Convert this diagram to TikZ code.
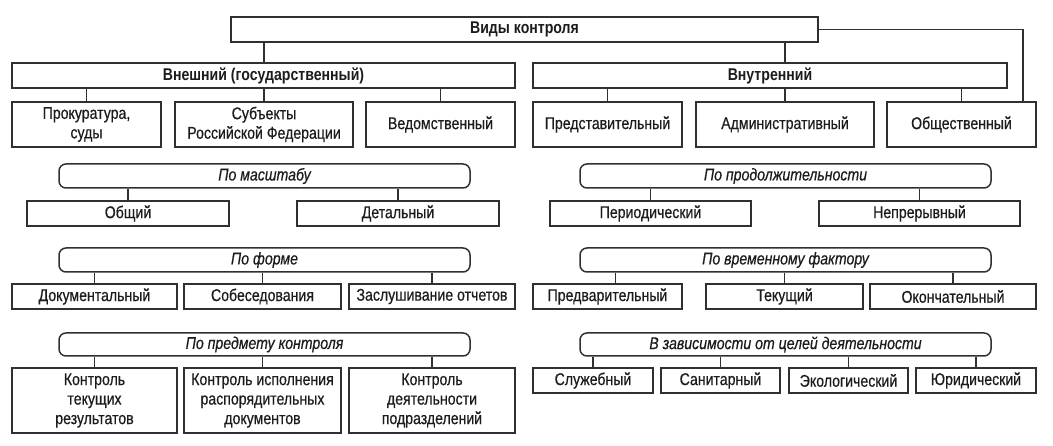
\documentclass[tikz,border=0pt]{standalone}
\usepackage{fontspec}
\setmainfont{Liberation Sans}[FakeStretch=0.83,
  UprightFeatures={FakeBold=0.5}, ItalicFeatures={FakeBold=0.5}]
\definecolor{linec}{HTML}{303030}
\definecolor{textc}{HTML}{1c1c1c}
\newcommand\fsz{\fontsize{17}{19.5}\selectfont}
\begin{document}
\begin{tikzpicture}[x=1pt,y=-1pt,
  box/.style={draw=linec, line width=1.5pt, inner sep=0pt, align=center, font=\fsz, text=textc},
  hbox/.style={box, font=\fsz\bfseries},
  rbox/.style={box, rounded corners=7pt, font=\fsz\itshape},
  conn/.style={draw=linec, line width=1.5pt}]
\fill[white] (0,0) rectangle (1053,446);
\useasboundingbox (0,0) rectangle (1053,446);

% top levels
\node[hbox, minimum width=587pt, minimum height=25pt] (top) at (524.5,29.5) {Виды контроля};
\node[hbox, minimum width=503pt, minimum height=25pt] (ext) at (263.5,75.5) {Внешний (государственный)};
\node[hbox, minimum width=474pt, minimum height=25pt] (int) at (770,75.5) {Внутренний};

\node[box, minimum width=149pt, minimum height=45pt] (p1) at (86.5,124.5) {Прокуратура,\\суды};
\node[box, minimum width=178pt, minimum height=45pt] (p2) at (264,124.5) {Субъекты\\Российской Федерации};
\node[box, minimum width=149pt, minimum height=45pt] (p3) at (440.5,124.5) {Ведомственный};
\node[box, minimum width=149pt, minimum height=45pt] (q1) at (607.5,124.5) {Представительный};
\node[box, minimum width=178pt, minimum height=45pt] (q2) at (785,124.5) {Административный};
\node[box, minimum width=149pt, minimum height=45pt] (q3) at (961.5,124.5) {Общественный};
\coordinate (rturn) at (1023,102);

\draw[conn] (top.south -| p2.north) -- (ext.north -| p2.north);
\draw[conn] (top.south -| q2.north) -- (int.north -| q2.north);
\draw[conn] (top.east) -| (rturn);
\foreach \c in {p1,p2,p3} \draw[conn] (ext.south -| \c.north) -- (\c.north);
\foreach \c in {q1,q2,q3} \draw[conn] (int.south -| \c.north) -- (\c.north);

% По масштабу
\node[rbox, minimum width=411pt, minimum height=24pt] (ma) at (264.5,176) {По масштабу};
\node[box, minimum width=202pt, minimum height=25pt] (ma1) at (128,213.5) {Общий};
\node[box, minimum width=202pt, minimum height=25pt] (ma2) at (398,213.5) {Детальный};
\foreach \c in {ma1,ma2} \draw[conn] (ma.south -| \c.north) -- (\c.north);

% По продолжительности
\node[rbox, minimum width=411pt, minimum height=24pt] (pr) at (785.5,176) {По продолжительности};
\node[box, minimum width=201pt, minimum height=25pt] (pr1) at (650.5,213.5) {Периодический};
\node[box, minimum width=201pt, minimum height=25pt] (pr2) at (919.5,213.5) {Непрерывный};
\foreach \c in {pr1,pr2} \draw[conn] (pr.south -| \c.north) -- (\c.north);

% По форме
\node[rbox, minimum width=411pt, minimum height=24pt] (fo) at (264.5,260) {По форме};
\node[box, minimum width=165pt, minimum height=25pt] (fo1) at (94.5,296.5) {Документальный};
\node[box, minimum width=157pt, minimum height=25pt] (fo2) at (262.5,296.5) {Собеседования};
\node[box, minimum width=166pt, minimum height=25pt] (fo3) at (432,296.5) {Заслушивание отчетов};
\foreach \c in {fo1,fo2,fo3} \draw[conn] (fo.south -| \c.north) -- (\c.north);

% По временному фактору
\node[rbox, minimum width=411pt, minimum height=24pt] (vf) at (785.5,260) {По временному фактору};
\node[box, minimum width=149pt, minimum height=25pt] (vf1) at (607.5,296.5) {Предварительный};
\node[box, minimum width=157pt, minimum height=25pt] (vf2) at (784.5,296.5) {Текущий};
\node[box, minimum width=166pt, minimum height=25pt] (vf3) at (953,296.5) {Окончательный};
\draw[conn] ([xshift=8pt]vf1.north |- vf.south) -- ([xshift=8pt]vf1.north);
\foreach \c in {vf2,vf3} \draw[conn] (vf.south -| \c.north) -- (\c.north);

% По предмету контроля
\node[rbox, minimum width=411pt, minimum height=23pt] (pk) at (264.5,344.5) {По предмету контроля};
\node[box, minimum width=165pt, minimum height=65pt] (pk1) at (94.5,400.5) {Контроль\\текущих\\результатов};
\node[box, minimum width=157pt, minimum height=65pt] (pk2) at (262.5,400.5) {Контроль исполнения\\распорядительных\\документов};
\node[box, minimum width=166pt, minimum height=65pt] (pk3) at (432,400.5) {Контроль\\деятельности\\подразделений};
\foreach \c in {pk1,pk2,pk3} \draw[conn] (pk.south -| \c.north) -- (\c.north);

% В зависимости от целей деятельности
\node[rbox, minimum width=411pt, minimum height=23pt] (zc) at (785.5,344.5) {В зависимости от целей деятельности};
\node[box, minimum width=120pt, minimum height=25pt] (zc1) at (593,380.5) {Служебный};
\node[box, minimum width=119pt, minimum height=25pt] (zc2) at (720.5,380.5) {Санитарный};
\node[box, minimum width=119pt, minimum height=25pt] (zc3) at (848.5,380.5) {Экологический};
\node[box, minimum width=120pt, minimum height=25pt] (zc4) at (976,380.5) {Юридический};
\foreach \c in {zc1,zc2,zc3,zc4} \draw[conn] (zc.south -| \c.north) -- (\c.north);
\end{tikzpicture}
\end{document}
